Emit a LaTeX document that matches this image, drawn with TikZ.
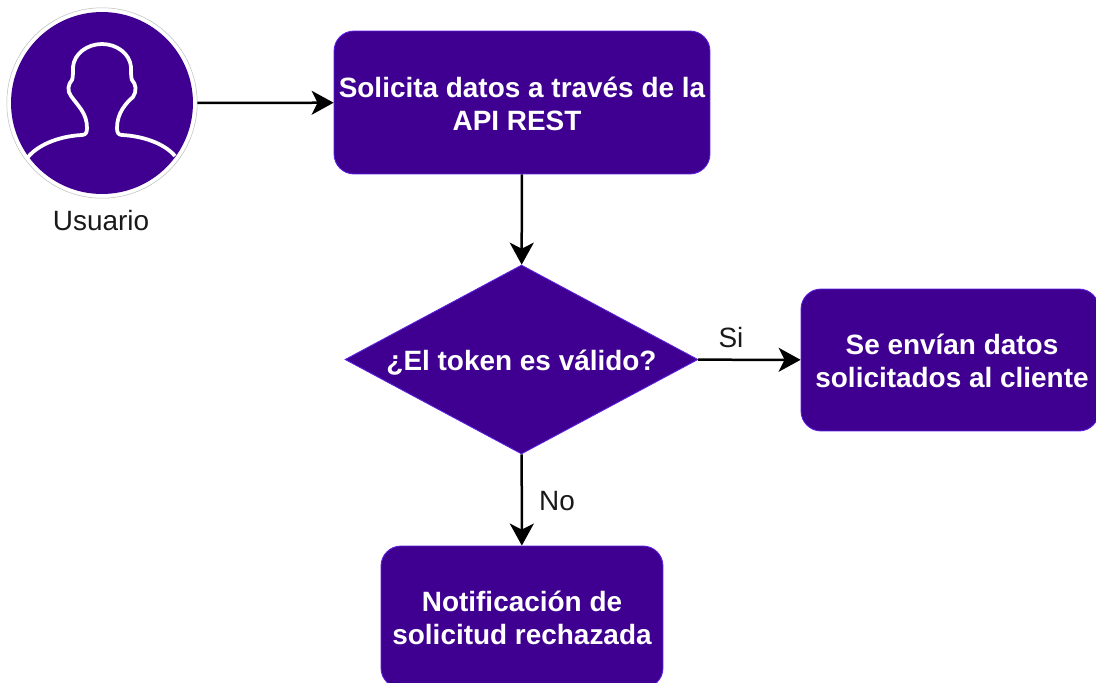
\documentclass[tikz,border=0pt]{standalone}
\usepackage{fontspec}
\setmainfont{Liberation Sans}
\usetikzlibrary{arrows.meta, shapes.geometric}
\definecolor{violeta}{HTML}{3F0091}
\definecolor{borde}{HTML}{5A20E0}

\tikzset{
    caja/.style={draw=borde, fill=violeta, rounded corners=0.4cm, line width=0.5pt, inner xsep=1pt, text=white, align=center, font=\fontsize{15.9}{18.8}\selectfont\bfseries},
    rombo/.style={draw=borde, fill=violeta, diamond, aspect=1.87, inner sep=0pt, line width=0.5pt, text=white, font=\fontsize{15.9}{18.8}\selectfont\bfseries, minimum width=7.06cm, minimum height=3.78cm},
    etiqueta/.style={text=black!90, font=\fontsize{15.9}{18.8}\selectfont},
    flecha/.style={-{Stealth[length=0.44cm, width=0.48cm, inset=0.12cm]}, line width=0.05cm}
}

\begin{document}
\begin{tikzpicture}[x=0.02cm, y=-0.02cm]
    \useasboundingbox (0, 0) rectangle (1096, 683);

    \node[circle, draw=black!25, fill=white, line width=0.3pt, inner sep=0pt, minimum size=3.81cm] (usuario) at (102, 103) {};
    \node[circle, fill=violeta, inner sep=0pt, minimum size=3.64cm] (cabeza) at (102, 103) {};
    \draw[white, line width=0.075cm, line join=round] (28, 157) .. controls (40, 143) and (62, 136) .. (82, 135)
        .. controls (86, 135) and (87, 132) .. (87, 128)
        .. controls (87, 113) and (78, 106) .. (71, 96)
        .. controls (67, 91) and (68, 84) .. (72, 80)
        .. controls (73, 78) and (73, 72) .. (73, 67)
        .. controls (74, 54) and (87, 44) .. (102, 44)
        .. controls (117, 44) and (130, 54) .. (131, 67)
        .. controls (131, 72) and (131, 78) .. (132, 80)
        .. controls (136, 84) and (137, 91) .. (133, 97)
        .. controls (126, 103) and (117, 113) .. (117, 128)
        .. controls (117, 132) and (118, 135) .. (122, 135)
        .. controls (142, 136) and (164, 143) .. (175, 156);
    \node[etiqueta] (nombre) at (101, 221) {Usuario};

    \node[caja, minimum width=7.52cm, minimum height=2.86cm] (solicita) at (522, 102.5) {\rule{0pt}{0.47cm}Solicita datos a través de la\\API REST\hspace*{0.2cm}};
    \node[rombo] (token) at (521.5, 359.5) {\rule{0pt}{0.54cm}¿El token es válido?};
    \node[caja, minimum width=5.96cm, minimum height=2.84cm] (envia) at (950, 360) {\rule{0pt}{0.44cm}\hspace*{0.08cm}Se envían datos\\\hspace*{0.08cm}solicitados al cliente};
    \node[caja, minimum width=5.64cm, minimum height=2.84cm] (rechazo) at (522, 617) {\rule{0pt}{0.46cm}Notificación de\\solicitud rechazada};

    \node[etiqueta] (si) at (731, 338) {Si};
    \node[etiqueta] (no) at (557, 501) {No};

    \draw[flecha] (usuario) -- (solicita);
    \draw[flecha] (solicita) -- (token);
    \draw[flecha] (token) -- (envia);
    \draw[flecha] (token) -- (rechazo);
\end{tikzpicture}
\end{document}
